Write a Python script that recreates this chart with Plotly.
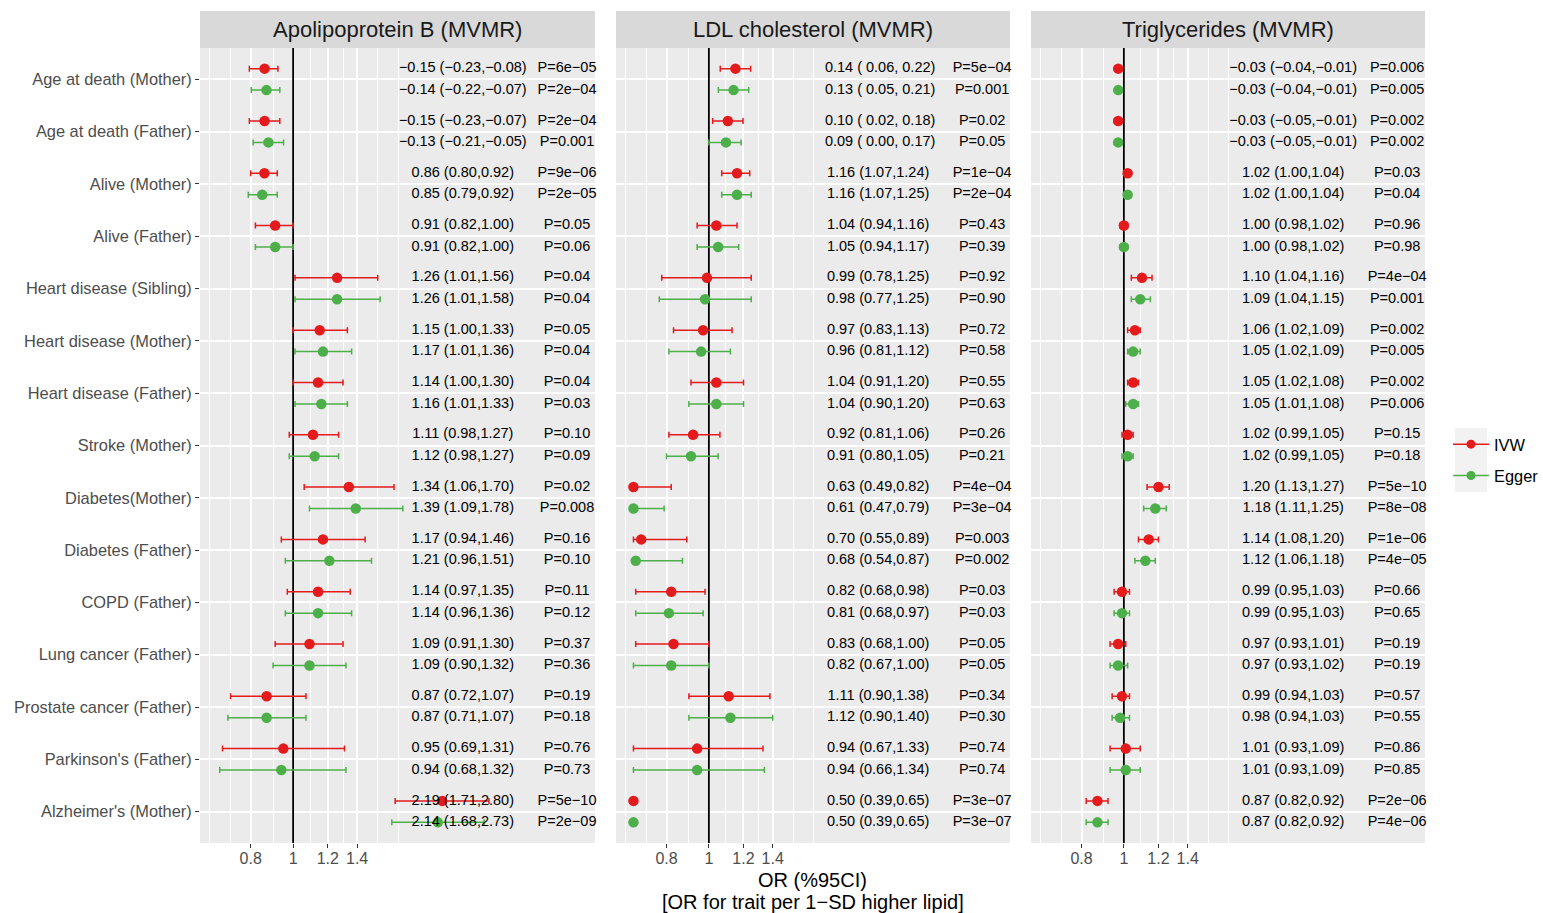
import math
import plotly.graph_objects as go

# ---------------- data ----------------
categories = ["Age at death (Mother)", "Age at death (Father)", "Alive (Mother)", "Alive (Father)",
              "Heart disease (Sibling)", "Heart disease (Mother)", "Heart disease (Father)",
              "Stroke (Mother)", "Diabetes(Mother)", "Diabetes (Father)", "COPD (Father)",
              "Lung cancer (Father)", "Prostate cancer (Father)", "Parkinson's (Father)",
              "Alzheimer's (Mother)"]
# first two outcomes are reported as beta (log scale) rather than OR
beta_rows = [True, True] + [False] * 13

panels = ["Apolipoprotein B (MVMR)", "LDL cholesterol (MVMR)", "Triglycerides (MVMR)"]
methods = ["IVW", "Egger"]

apob_ivw_est = [-0.15, -0.15, 0.86, 0.91, 1.26, 1.15, 1.14, 1.11, 1.34, 1.17, 1.14, 1.09, 0.87, 0.95, 2.19]
apob_ivw_lo = [-0.23, -0.23, 0.80, 0.82, 1.01, 1.00, 1.00, 0.98, 1.06, 0.94, 0.97, 0.91, 0.72, 0.69, 1.71]
apob_ivw_hi = [-0.08, -0.07, 0.92, 1.00, 1.56, 1.33, 1.30, 1.27, 1.70, 1.46, 1.35, 1.30, 1.07, 1.31, 2.80]
apob_ivw_p = ["6e-05", "2e-04", "9e-06", "0.05", "0.04", "0.05", "0.04", "0.10", "0.02", "0.16", "0.11", "0.37", "0.19", "0.76", "5e-10"]
apob_egg_est = [-0.14, -0.13, 0.85, 0.91, 1.26, 1.17, 1.16, 1.12, 1.39, 1.21, 1.14, 1.09, 0.87, 0.94, 2.14]
apob_egg_lo = [-0.22, -0.21, 0.79, 0.82, 1.01, 1.01, 1.01, 0.98, 1.09, 0.96, 0.96, 0.90, 0.71, 0.68, 1.68]
apob_egg_hi = [-0.07, -0.05, 0.92, 1.00, 1.58, 1.36, 1.33, 1.27, 1.78, 1.51, 1.36, 1.32, 1.07, 1.32, 2.73]
apob_egg_p = ["2e-04", "0.001", "2e-05", "0.06", "0.04", "0.04", "0.03", "0.09", "0.008", "0.10", "0.12", "0.36", "0.18", "0.73", "2e-09"]

ldl_ivw_est = [0.14, 0.10, 1.16, 1.04, 0.99, 0.97, 1.04, 0.92, 0.63, 0.70, 0.82, 0.83, 1.11, 0.94, 0.50]
ldl_ivw_lo = [0.06, 0.02, 1.07, 0.94, 0.78, 0.83, 0.91, 0.81, 0.49, 0.55, 0.68, 0.68, 0.90, 0.67, 0.39]
ldl_ivw_hi = [0.22, 0.18, 1.24, 1.16, 1.25, 1.13, 1.20, 1.06, 0.82, 0.89, 0.98, 1.00, 1.38, 1.33, 0.65]
ldl_ivw_p = ["5e-04", "0.02", "1e-04", "0.43", "0.92", "0.72", "0.55", "0.26", "4e-04", "0.003", "0.03", "0.05", "0.34", "0.74", "3e-07"]
ldl_egg_est = [0.13, 0.09, 1.16, 1.05, 0.98, 0.96, 1.04, 0.91, 0.61, 0.68, 0.81, 0.82, 1.12, 0.94, 0.50]
ldl_egg_lo = [0.05, 0.00, 1.07, 0.94, 0.77, 0.81, 0.90, 0.80, 0.47, 0.54, 0.68, 0.67, 0.90, 0.66, 0.39]
ldl_egg_hi = [0.21, 0.17, 1.25, 1.17, 1.25, 1.12, 1.20, 1.05, 0.79, 0.87, 0.97, 1.00, 1.40, 1.34, 0.65]
ldl_egg_p = ["0.001", "0.05", "2e-04", "0.39", "0.90", "0.58", "0.63", "0.21", "3e-04", "0.002", "0.03", "0.05", "0.30", "0.74", "3e-07"]

tg_ivw_est = [-0.03, -0.03, 1.02, 1.00, 1.10, 1.06, 1.05, 1.02, 1.20, 1.14, 0.99, 0.97, 0.99, 1.01, 0.87]
tg_ivw_lo = [-0.04, -0.05, 1.00, 0.98, 1.04, 1.02, 1.02, 0.99, 1.13, 1.08, 0.95, 0.93, 0.94, 0.93, 0.82]
tg_ivw_hi = [-0.01, -0.01, 1.04, 1.02, 1.16, 1.09, 1.08, 1.05, 1.27, 1.20, 1.03, 1.01, 1.03, 1.09, 0.92]
tg_ivw_p = ["0.006", "0.002", "0.03", "0.96", "4e-04", "0.002", "0.002", "0.15", "5e-10", "1e-06", "0.66", "0.19", "0.57", "0.86", "2e-06"]
tg_egg_est = [-0.03, -0.03, 1.02, 1.00, 1.09, 1.05, 1.05, 1.02, 1.18, 1.12, 0.99, 0.97, 0.98, 1.01, 0.87]
tg_egg_lo = [-0.04, -0.05, 1.00, 0.98, 1.04, 1.02, 1.01, 0.99, 1.11, 1.06, 0.95, 0.93, 0.94, 0.93, 0.82]
tg_egg_hi = [-0.01, -0.01, 1.04, 1.02, 1.15, 1.09, 1.08, 1.05, 1.25, 1.18, 1.03, 1.02, 1.03, 1.09, 0.92]
tg_egg_p = ["0.005", "0.002", "0.04", "0.98", "0.001", "0.005", "0.006", "0.18", "8e-08", "4e-05", "0.65", "0.19", "0.55", "0.85", "4e-06"]

x_tick_vals = [0.8, 1, 1.2, 1.4]
x_tick_text = ["0.8", "1", "1.2", "1.4"]
x_title_lines = ["OR (%95CI)", "[OR for trait per 1\u2212SD higher lipid]"]

# ---------------- styling / layout constants ----------------
W, H = 1543, 913
RED, GREEN = "#E41A1C", "#4DAF4A"
COLORS = [RED, GREEN]
FONT = "Liberation Sans, Arial, Helvetica, sans-serif"
X_RANGE_LN = (-0.4895, 1.587)          # visible range of ln(OR)
SQUISH_LOW = 0.672                    # values below are squished to the panel limit
CI_TEXT_X = math.exp(0.892)           # position of CI label column (OR scale)
P_TEXT_X = math.exp(1.44)             # position of P label column
NULL_OR = 1.0
DODGE = 0.205
MINOR_GRID = [0.643, 0.718, 0.90, 1.094, 1.30, 1.56, 1.74]
PANEL_PX = [(200, 595), (616, 1010), (1031, 1425)]
PANEL_TOP, PANEL_BOT = 48, 843
STRIP_TOP = 11

data = {
    0: [(apob_ivw_est, apob_ivw_lo, apob_ivw_hi, apob_ivw_p), (apob_egg_est, apob_egg_lo, apob_egg_hi, apob_egg_p)],
    1: [(ldl_ivw_est, ldl_ivw_lo, ldl_ivw_hi, ldl_ivw_p), (ldl_egg_est, ldl_egg_lo, ldl_egg_hi, ldl_egg_p)],
    2: [(tg_ivw_est, tg_ivw_lo, tg_ivw_hi, tg_ivw_p), (tg_egg_est, tg_egg_lo, tg_egg_hi, tg_egg_p)],
}

MINUS = "\u2212"
NBSP = "\u00a0"


def fmt_beta(v):
    s = "% .2f" % v
    return s.replace("-", MINUS).replace(" ", NBSP)


def ci_label(e, l, h, is_beta):
    if is_beta:
        return f"{fmt_beta(e)} ({fmt_beta(l)},{fmt_beta(h)})"
    return f"{e:.2f} ({l:.2f},{h:.2f})"


def to_or(v, is_beta):
    return math.exp(v) if is_beta else v


fig = go.Figure()
n = len(categories)
ypos = list(range(1, n + 1))

for pi in range(3):
    xa = "x" if pi == 0 else f"x{pi + 1}"
    # reference line at OR = 1
    fig.add_trace(go.Scatter(x=[NULL_OR, NULL_OR], y=[0.4, n + 0.6], mode="lines",
                             line=dict(color="black", width=1.8), xaxis=xa, yaxis="y",
                             showlegend=False, hoverinfo="skip"))
    for mi, (est, lo, hi, pv) in enumerate(data[pi]):
        off = -DODGE if mi == 0 else DODGE
        ys = [y + off for y in ypos]
        xs, ep, em = [], [], []
        for e, l, h, b in zip(est, lo, hi, beta_rows):
            eo = max(to_or(e, b), SQUISH_LOW)
            lo_ = max(to_or(l, b), SQUISH_LOW)
            hi_ = max(to_or(h, b), SQUISH_LOW)
            xs.append(eo)
            ep.append(hi_ - eo)
            em.append(eo - lo_)
        fig.add_trace(go.Scatter(
            x=xs, y=ys, mode="markers", xaxis=xa, yaxis="y", showlegend=False,
            name=methods[mi], cliponaxis=True,
            marker=dict(color=COLORS[mi], size=10.5),
            error_x=dict(type="data", symmetric=False, array=ep, arrayminus=em,
                         color=COLORS[mi], thickness=1.5, width=3)))
        ci_txt = [ci_label(e, l, h, b) for e, l, h, b in zip(est, lo, hi, beta_rows)]
        p_txt = ["P=" + p.replace("-", MINUS) for p in pv]
        fig.add_trace(go.Scatter(x=[CI_TEXT_X] * n, y=ys, mode="text", text=ci_txt,
                                 textposition="middle center", cliponaxis=False,
                                 textfont=dict(family=FONT, size=14.5, color="black"),
                                 xaxis=xa, yaxis="y", showlegend=False, hoverinfo="skip"))
        fig.add_trace(go.Scatter(x=[P_TEXT_X] * n, y=ys, mode="text", text=p_txt,
                                 textposition="middle center", cliponaxis=False,
                                 textfont=dict(family=FONT, size=14.5, color="black"),
                                 xaxis=xa, yaxis="y", showlegend=False, hoverinfo="skip"))

# legend entries
for mi in range(2):
    fig.add_trace(go.Scatter(x=[None], y=[None], mode="lines+markers", name=methods[mi],
                             line=dict(color=COLORS[mi], width=1.5),
                             marker=dict(color=COLORS[mi], size=9), showlegend=True,
                             legendgroup=methods[mi]))

xr = [X_RANGE_LN[0] / math.log(10), X_RANGE_LN[1] / math.log(10)]
layout = dict(
    width=W, height=H, margin=dict(l=0, r=0, t=0, b=0, autoexpand=False),
    paper_bgcolor="white", plot_bgcolor="#EBEBEB",
    font=dict(family=FONT, color="#4D4D4D"),
    yaxis=dict(range=[n + 0.6, 0.4], tickvals=ypos, ticktext=categories,
               domain=[(H - PANEL_BOT) / H, (H - PANEL_TOP) / H], anchor="x",
               showgrid=True, gridcolor="white", gridwidth=1.7, zeroline=False,
               ticks="outside", ticklen=4, tickwidth=1.3, tickcolor="#333333",
               tickfont=dict(size=16.4, color="#4D4D4D", family=FONT), showline=False),
    showlegend=True,
    legend=dict(x=1448 / W, y=(H - 460) / H, xanchor="left", yanchor="middle",
                bgcolor="rgba(0,0,0,0)", font=dict(size=16.4, color="black", family=FONT),
                tracegroupgap=7, itemwidth=36),
)
for pi, (x0, x1) in enumerate(PANEL_PX):
    key = "xaxis" if pi == 0 else f"xaxis{pi + 1}"
    layout[key] = dict(
        type="log", range=xr, domain=[x0 / W, x1 / W], anchor="y",
        tickvals=x_tick_vals, ticktext=x_tick_text,
        showgrid=True, gridcolor="white", gridwidth=1.7, zeroline=False,
        ticks="outside", ticklen=4, tickwidth=1.3, tickcolor="#333333",
        tickfont=dict(size=16, color="#4D4D4D", family=FONT), showline=False,
        ticklabelstandoff=-3,
        minor=dict(tickmode="array", tickvals=MINOR_GRID, showgrid=True,
                   gridcolor="white", gridwidth=0.9, ticks=""),
    )
fig.update_layout(**layout)

shapes = []
annotations = []
for pi, (x0, x1) in enumerate(PANEL_PX):
    shapes.append(dict(type="rect", xref="paper", yref="paper", x0=x0 / W, x1=x1 / W,
                       y0=(H - PANEL_TOP) / H, y1=(H - STRIP_TOP) / H,
                       fillcolor="#D9D9D9", line=dict(width=0), layer="below"))
    annotations.append(dict(text=panels[pi], xref="paper", yref="paper",
                            x=(x0 + x1) / 2 / W, y=(H - (STRIP_TOP + PANEL_TOP) / 2) / H,
                            xanchor="center", yanchor="middle", showarrow=False,
                            font=dict(size=22, color="#1A1A1A", family=FONT)))
# legend key background
shapes.append(dict(type="rect", xref="paper", yref="paper", x0=1455 / W, x1=1487 / W,
                   y0=(H - 492) / H, y1=(H - 428) / H, fillcolor="#F2F2F2",
                   line=dict(width=0), layer="below"))
# x-axis title (two lines)
for txt, yc in zip(x_title_lines, [880, 902]):
    annotations.append(dict(text=txt, xref="paper", yref="paper",
                            x=(PANEL_PX[0][0] + PANEL_PX[2][1]) / 2 / W,
                            y=(H - yc) / H, xanchor="center", yanchor="middle", showarrow=False,
                            font=dict(size=20, color="black", family=FONT)))
fig.update_layout(shapes=shapes, annotations=annotations)

fig.write_html("out.html", post_script="document.body.style.margin='0';",
               config={"displayModeBar": False})
